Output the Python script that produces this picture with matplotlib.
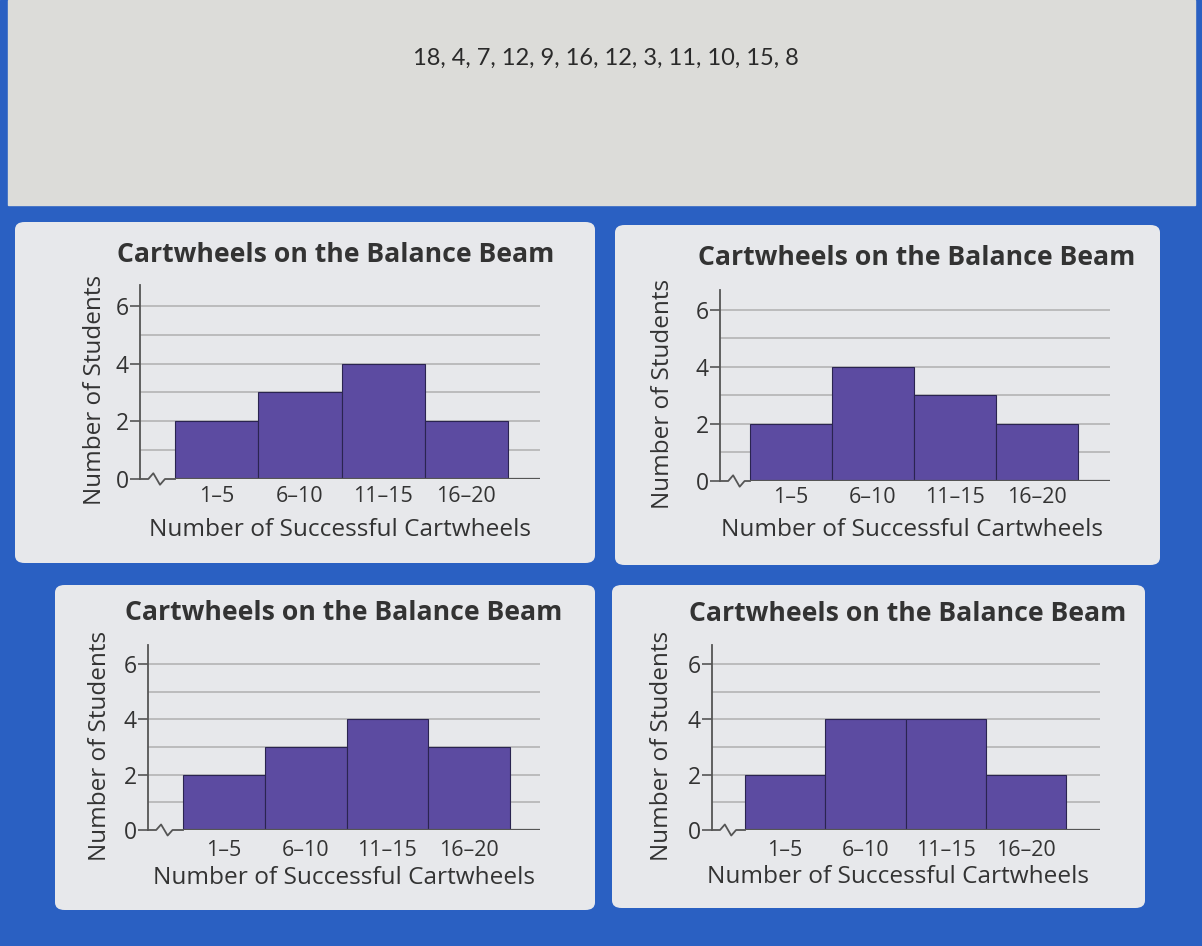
import numpy as np
import matplotlib
matplotlib.use("Agg")
import matplotlib.pyplot as plt
from matplotlib.patches import FancyBboxPatch, Rectangle

# data
raw_values = [18, 4, 7, 12, 9, 16, 12, 3, 11, 10, 15, 8]
bins = ["1\u20135", "6\u201310", "11\u201315", "16\u201320"]
counts_a = [2, 3, 4, 2]   # top left
counts_b = [2, 4, 3, 2]   # top right
counts_c = [2, 3, 4, 3]   # bottom left
counts_d = [2, 4, 4, 2]   # bottom right
y_ticks = [0, 2, 4, 6]

title = "Cartwheels on the Balance Beam"
xlab = "Number of Successful Cartwheels"
ylab = "Number of Students"

W, H = 1202, 946
plt.rcParams['font.family'] = ['Open Sans', 'DejaVu Sans']
fig = plt.figure(figsize=(W / 100, H / 100), dpi=100)

def fx(px):
    return px / W

def fy(py):
    return 1 - py / H

# background
fig.patches.append(Rectangle((0, 0), 1, 1, transform=fig.transFigure,
                             color="#2a60c2", zorder=-10))
fig.patches.append(Rectangle((fx(8), fy(205)), fx(1195) - fx(8), fy(0) - fy(205),
                             transform=fig.transFigure, color="#dcdcd9", zorder=-9))
fig.text(fx(606), fy(58), ", ".join(str(v) for v in raw_values), ha="center",
         va="center", fontsize=17, color="#2a2a2a", family=["Lato", "DejaVu Sans"])

text_col = "#333333"
bar_col = "#5c4ba1"

# card box, axis x, bar start, bar end, grid end, y0 px, y6 px, top px, title, xlabel, ticks y, ylabel x
cards = [
    (counts_a, (15, 222, 595, 563), 140, 175, 508, 540, 479, 306, 285, (336, 255), (340, 530), 496, 95),
    (counts_b, (615, 225, 1160, 565), 720, 750, 1078, 1110, 481, 310, 290, (917, 258), (912, 530), 497, 663),
    (counts_c, (55, 585, 595, 910), 148, 183, 510, 540, 830, 664, 645, (344, 613), (344, 878), 850, 100),
    (counts_d, (612, 585, 1145, 908), 712, 745, 1066, 1100, 830, 664, 645, (908, 614), (898, 877), 850, 662),
]

for counts, box, ax_x, b0, b1, gx, y0, y6, ytop, tpos, xpos, tick_y, ylx in cards:
    x0, yt, x1, yb = box
    fig.patches.append(FancyBboxPatch((fx(x0), fy(yb)), fx(x1) - fx(x0), fy(yt) - fy(yb),
                                      boxstyle="round,pad=0,rounding_size=0.008",
                                      transform=fig.transFigure, facecolor="#e7e8eb",
                                      edgecolor="none", zorder=-8))
    unit = (b1 - b0) / 4.0
    xl = 0.5 - (b0 - ax_x) / unit
    xr = 4.5 + (gx - b1) / unit
    yu = (y0 - y6) / 6.0
    yt_lim = (y0 - ytop) / yu
    ax = fig.add_axes([fx(ax_x), fy(y0), fx(gx) - fx(ax_x), fy(ytop) - fy(y0)])
    ax.set_facecolor("none")
    ax.set_xlim(xl, xr)
    ax.set_ylim(0, yt_lim)
    for k in range(1, 7):
        ax.hlines(k, xl, xr, color="#b4b4b4", lw=1.2, zorder=1)
    ax.bar(np.arange(1, 5), counts, width=1.0, color=bar_col, edgecolor="#2a2450",
           linewidth=0.8, zorder=3)
    ax.hlines(0, 0.5, xr, color="#555555", lw=1.6, zorder=4)
    # axis break
    zx = [xl, xl + 0.1, xl + 0.16, xl + 0.24, xl + 0.3, 0.5]
    zy = [0, 0, 0.2, -0.2, 0, 0]
    ax.plot(zx, zy, color="#555555", lw=1.3, clip_on=False, zorder=4)
    for s in ["top", "right", "bottom"]:
        ax.spines[s].set_visible(False)
    ax.spines["left"].set_color("#555555")
    ax.spines["left"].set_linewidth(1.3)
    ax.set_yticks(y_ticks)
    ax.set_yticklabels([str(v) for v in y_ticks])
    ax.tick_params(axis="y", length=7, width=1.2, color="#555555", labelsize=16.5,
                   labelcolor=text_col, pad=1)
    ax.set_xticks(np.arange(1, 5))
    ax.set_xticklabels(bins)
    ax.tick_params(axis="x", length=0, labelsize=15.5, labelcolor=text_col,
                   pad=(tick_y - y0 - 10) * 0.72)
    fig.text(fx(tpos[0]), fy(tpos[1]), title, ha="center", va="center",
             fontsize=19.2, fontweight="bold", color=text_col)
    fig.text(fx(xpos[0]), fy(xpos[1]), xlab, ha="center", va="center",
             fontsize=17.6, color=text_col)
    fig.text(fx(ylx), fy((y0 + ytop) / 2 + 8), ylab, ha="center", va="center",
             rotation=90, fontsize=17.5, color=text_col)

fig.savefig("out.png", dpi=100)
